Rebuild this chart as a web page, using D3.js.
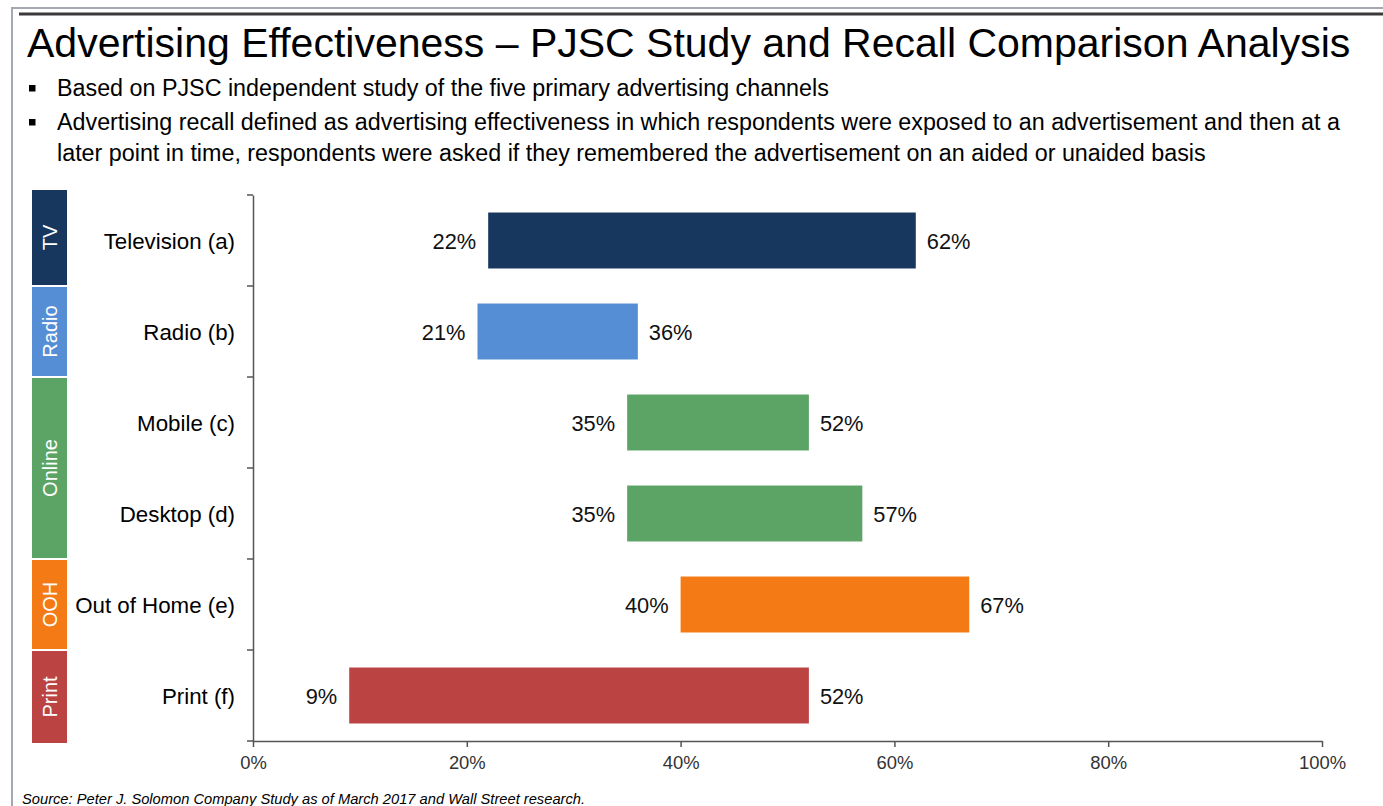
<!DOCTYPE html>
<html>
<head>
<meta charset="utf-8">
<script src="https://cdn.jsdelivr.net/npm/d3@7"></script>
<style>
  html, body { margin: 0; padding: 0; background: #fff; }
  svg { display: block; font-family: "Liberation Sans", Arial, sans-serif; }
</style>
</head>
<body>
<svg id="chart" width="1383" height="806"></svg>
<script>
// Advertising channels (rows, top to bottom)
const categories = ["Television (a)", "Radio (b)", "Mobile (c)", "Desktop (d)", "Out of Home (e)", "Print (f)"];
// Low and high recall per channel (fractions)
const lowValues  = [0.22, 0.21, 0.35, 0.35, 0.40, 0.09];
const highValues = [0.62, 0.36, 0.52, 0.57, 0.67, 0.52];
// Channel group for each row
const rowGroups = ["TV", "Radio", "Online", "Online", "OOH", "Print"];
// Group bands on the left
const groups = ["TV", "Radio", "Online", "OOH", "Print"];
const groupColors = ["#17375e", "#558ed5", "#5ca465", "#f47a16", "#bb4442"];
// X axis ticks
const xTicks = [0, 0.2, 0.4, 0.6, 0.8, 1.0];

const title = "Advertising Effectiveness \u2013 PJSC Study and Recall Comparison Analysis";
const bullets = [
  ["Based on PJSC independent study of the five primary advertising channels"],
  ["Advertising recall defined as advertising effectiveness in which respondents were exposed to an advertisement and then at a",
   "later point in time, respondents were asked if they remembered the advertisement on an aided or unaided basis"]
];
const source = "Source: Peter J. Solomon Company Study as of March 2017 and Wall Street research.";

const svg = d3.select("#chart");
const color = d3.scaleOrdinal().domain(groups).range(groupColors);

// Page frame and header rule
svg.append("path").attr("d", "M12,806 V8 H1383").attr("fill", "none")
  .attr("stroke", "#a4a8b0").attr("stroke-width", 2);
svg.append("line").attr("x1", 19).attr("x2", 1383).attr("y1", 14).attr("y2", 14)
  .attr("stroke", "#3a3a3a").attr("stroke-width", 3);

svg.append("text").attr("x", 27).attr("y", 56.5)
  .attr("font-size", 41).attr("fill", "#000").text(title);

// Bulleted notes
let lineY = 96;
bullets.forEach(lines => {
  svg.append("rect").attr("x", 29).attr("y", lineY - 11).attr("width", 6.5).attr("height", 6.5).attr("fill", "#000");
  lines.forEach((l, i) => {
    svg.append("text").attr("x", 57).attr("y", lineY).attr("font-size", 23.3).attr("fill", "#000").text(l);
    lineY += i < lines.length - 1 ? 31 : 34;
  });
});

// Scales
const plot = { left: 253, right: 1322, top: 195, bottom: 741 };
const x = d3.scaleLinear().domain([0, 1]).range([plot.left, plot.right]);
const yRow = d3.scaleBand().domain(categories).range([plot.top, plot.bottom]).padding(0);
const yBar = d3.scaleBand().domain(categories).range([plot.top, plot.bottom])
  .paddingInner(0.385).paddingOuter(0.1925);

// Y axis: line with ticks at row boundaries
const yAxis = svg.append("g").attr("transform", `translate(${plot.left},0)`)
  .call(d3.axisLeft(yRow).tickSize(0).tickFormat("").tickSizeOuter(0));
yAxis.select(".domain").attr("stroke", "#555").attr("stroke-width", 1.5);
const boundaries = categories.map(c => yRow(c)).concat([plot.bottom]);
svg.append("g").selectAll("line").data(boundaries).join("line")
  .attr("x1", plot.left - 6).attr("x2", plot.left)
  .attr("y1", d => d).attr("y2", d => d)
  .attr("stroke", "#555").attr("stroke-width", 1.5);

// X axis
const xAxis = svg.append("g").attr("transform", `translate(0,${plot.bottom})`)
  .call(d3.axisBottom(x).tickValues(xTicks).tickFormat(d3.format(".0%")).tickSize(6).tickSizeOuter(0).tickPadding(9));
xAxis.select(".domain").attr("stroke", "#555").attr("stroke-width", 1.5);
xAxis.selectAll(".tick line").attr("stroke", "#555").attr("stroke-width", 1.5);
xAxis.selectAll(".tick text").attr("font-size", 18.4).attr("fill", "#333")
  .attr("font-family", "Liberation Sans, Arial, sans-serif");

// Category labels
svg.append("g").selectAll("text").data(categories).join("text")
  .attr("x", 235).attr("y", d => yRow(d) + yRow.bandwidth() / 2)
  .attr("dy", "0.36em").attr("text-anchor", "end")
  .attr("font-size", 22.3).attr("fill", "#000").text(d => d);

// Range bars
const rows = categories.map((c, i) => ({ c, lo: lowValues[i], hi: highValues[i], g: rowGroups[i] }));
svg.append("g").selectAll("rect").data(rows).join("rect")
  .attr("x", d => x(d.lo)).attr("width", d => x(d.hi) - x(d.lo))
  .attr("y", d => yBar(d.c)).attr("height", yBar.bandwidth())
  .attr("fill", d => color(d.g));

const pct = d3.format(".0%");
svg.append("g").selectAll("text").data(rows).join("text")
  .attr("x", d => x(d.lo) - 12).attr("y", d => yBar(d.c) + yBar.bandwidth() / 2)
  .attr("dy", "0.37em").attr("text-anchor", "end")
  .attr("font-size", 21.8).attr("fill", "#111").text(d => pct(d.lo));
svg.append("g").selectAll("text").data(rows).join("text")
  .attr("x", d => x(d.hi) + 11).attr("y", d => yBar(d.c) + yBar.bandwidth() / 2)
  .attr("dy", "0.37em").attr("text-anchor", "start")
  .attr("font-size", 21.8).attr("fill", "#111").text(d => pct(d.hi));

// Group bands along the left edge
const groupSpans = groups.map((g, gi) => {
  const members = categories.filter((c, i) => rowGroups[i] === g);
  let y0 = yRow(members[0]) + 1;
  let y1 = yRow(members[members.length - 1]) + yRow.bandwidth() - 1;
  if (gi === 0) y0 = plot.top - 5;
  if (gi === groups.length - 1) y1 = plot.bottom + 2;
  return { g, y0, y1 };
});
const gb = svg.append("g");
gb.selectAll("rect").data(groupSpans).join("rect")
  .attr("x", 32).attr("width", 35)
  .attr("y", d => d.y0).attr("height", d => d.y1 - d.y0)
  .attr("fill", d => color(d.g));
gb.selectAll("text").data(groupSpans).join("text")
  .attr("transform", d => `translate(50,${(d.y0 + d.y1) / 2}) rotate(-90)`)
  .attr("text-anchor", "middle").attr("dy", "0.35em")
  .attr("font-size", 20).attr("fill", "#fff").text(d => d.g);

// Source note
svg.append("text").attr("x", 22).attr("y", 804)
  .attr("font-size", 14.7).attr("font-style", "italic").attr("fill", "#000").text(source);
</script>
</body>
</html>
